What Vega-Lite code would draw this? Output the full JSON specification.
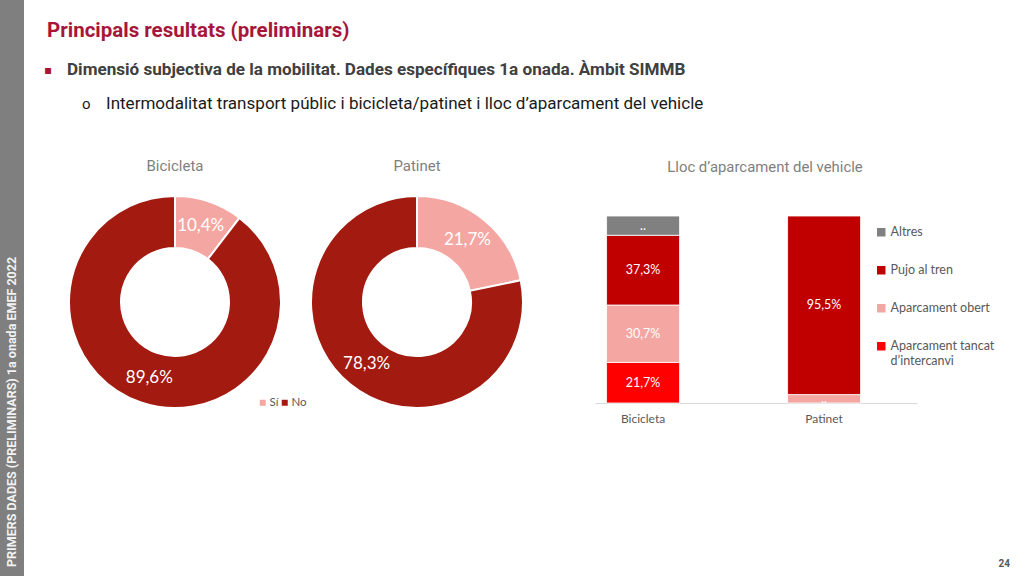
{
  "$schema": "https://vega.github.io/schema/vega-lite/v6.json",
  "padding": 0,
  "background": "white",
  "config": {
    "view": {"stroke": null},
    "font": "Roboto",
    "title": {"font": "Roboto"}
  },
  "spacing": 20,
  "hconcat": [
    {
      "width": 24,
      "height": 576,
      "view": {"fill": "#7f7f7f", "stroke": null},
      "data": {"values": [{"t": "PRIMERS DADES (PRELIMINARS) 1a onada EMEF 2022"}]},
      "mark": {"type": "text", "angle": 270, "align": "left", "baseline": "middle", "color": "#f2f2f2", "fontSize": 12.5, "fontWeight": "bold", "font": "Roboto", "dx": 9},
      "encoding": {
        "text": {"field": "t"},
        "y": {"datum": 0, "type": "quantitative", "scale": {"domain": [0, 1]}, "axis": null}
      }
    },
    {
      "spacing": 24,
      "vconcat": [
        {
          "width": 900,
          "height": 135,
          "encoding": {
            "x": {"datum": 0, "type": "quantitative", "scale": {"domain": [0, 1]}, "axis": null},
            "y": {"field": "line", "type": "nominal", "scale": {"type": "point", "domain": ["t", "b1", "b2"], "range": [31, 104], "padding": 0}, "axis": null},
            "text": {"field": "txt"}
          },
          "layer": [
            {
              "data": {"values": [{"line": "t", "txt": "Principals resultats (preliminars)"}]},
              "mark": {"type": "text", "align": "left", "dx": 3, "font": "Roboto", "fontSize": 20.5, "fontWeight": "bold", "color": "#A6163A"}
            },
            {
              "data": {"values": [{"line": "b1", "txt": "▪"}]},
              "mark": {"type": "text", "align": "left", "dx": 0, "dy": 2, "font": "DejaVu Sans", "fontSize": 12, "color": "#A6163A"}
            },
            {
              "data": {"values": [{"line": "b1", "txt": "Dimensió subjectiva de la mobilitat. Dades específiques 1a onada. Àmbit SIMMB"}]},
              "mark": {"type": "text", "align": "left", "dx": 23, "dy": 2.5, "font": "Roboto", "fontSize": 17.1, "fontWeight": "bold", "color": "#404040"}
            },
            {
              "data": {"values": [{"line": "b2", "txt": "o"}]},
              "mark": {"type": "text", "align": "left", "dx": 38, "font": "Roboto", "fontSize": 15, "color": "#1a1a1a"}
            },
            {
              "data": {"values": [{"line": "b2", "txt": "Intermodalitat transport públic i bicicleta/patinet i lloc d’aparcament del vehicle"}]},
              "mark": {"type": "text", "align": "left", "dx": 62, "font": "Roboto", "fontSize": 17.05, "color": "#1a1a1a"}
            }
          ]
        },
        {
          "spacing": 0,
          "resolve": {"scale": {"color": "independent", "theta": "independent"}, "legend": {"color": "independent"}},
          "hconcat": [
            {
              "width": 262,
              "height": 212,
              "title": {"text": "Bicicleta", "fontSize": 15, "fontWeight": "normal", "color": "#7f7f7f", "offset": 18},
              "data": {"values": [
                {"r": "Sí", "v": 10.4, "lab": "10,4%"},
                {"r": "No", "v": 89.6, "lab": "89,6%"}
              ]},
              "encoding": {
                "theta": {"field": "v", "type": "quantitative", "stack": true},
                "order": {"field": "r", "type": "nominal", "sort": "descending"}
              },
              "layer": [
                {
                  "mark": {"type": "arc", "radius": 106, "radius2": 54, "stroke": "white", "strokeWidth": 2},
                  "encoding": {
                    "color": {
                      "field": "r", "type": "nominal",
                      "scale": {"domain": ["Sí", "No"], "range": ["#F4A7A2", "#A31A10"]},
                      "legend": {"orient": "bottom-right", "direction": "horizontal", "title": null, "offset": -1, "symbolType": "square", "symbolSize": 36, "symbolStrokeWidth": 0, "labelFontSize": 11.5, "labelFont": "Lato", "labelColor": "#595959", "columnPadding": 0, "gridAlign": "none", "labelOffset": 1, "padding": 0}
                    }
                  }
                },
                {
                  "mark": {"type": "text", "radius": 80, "fontSize": 17, "font": "Lato"},
                  "encoding": {"text": {"field": "lab"}, "detail": {"field": "r"}, "color": {"value": "white"}}
                }
              ]
            },
            {
              "width": 212,
              "height": 212,
              "title": {"text": "Patinet", "fontSize": 15, "fontWeight": "normal", "color": "#7f7f7f", "offset": 18},
              "data": {"values": [
                {"r": "Sí", "v": 21.7, "lab": "21,7%"},
                {"r": "No", "v": 78.3, "lab": "78,3%"}
              ]},
              "encoding": {
                "theta": {"field": "v", "type": "quantitative", "stack": true},
                "order": {"field": "r", "type": "nominal", "sort": "descending"}
              },
              "layer": [
                {
                  "mark": {"type": "arc", "radius": 106, "radius2": 54, "stroke": "white", "strokeWidth": 2},
                  "encoding": {
                    "color": {
                      "field": "r", "type": "nominal",
                      "scale": {"domain": ["Sí", "No"], "range": ["#F4A7A2", "#A31A10"]},
                      "legend": null
                    }
                  }
                },
                {
                  "mark": {"type": "text", "radius": 80, "fontSize": 17, "font": "Lato"},
                  "encoding": {"text": {"field": "lab"}, "detail": {"field": "r"}, "color": {"value": "white"}}
                }
              ]
            },
            {
              "width": 322,
              "height": 207,
              "title": {"text": "Lloc d’aparcament del vehicle", "fontSize": 14.9, "fontWeight": "normal", "color": "#7f7f7f", "offset": 21, "dx": 9},
              "data": {"values": [
                {"m": "Bicicleta", "c": "Aparcament tancat d’intercanvi", "v": 21.7, "lab": "21,7%", "k": 1},
                {"m": "Bicicleta", "c": "Aparcament obert", "v": 30.7, "lab": "30,7%", "k": 2},
                {"m": "Bicicleta", "c": "Pujo al tren", "v": 37.3, "lab": "37,3%", "k": 3},
                {"m": "Bicicleta", "c": "Altres", "v": 10.3, "lab": "..", "k": 4},
                {"m": "Patinet", "c": "Aparcament obert", "v": 4.5, "lab": "..", "k": 2},
                {"m": "Patinet", "c": "Pujo al tren", "v": 95.5, "lab": "95,5%", "k": 3}
              ]},
              "encoding": {
                "x": {
                  "field": "m", "type": "nominal",
                  "scale": {"paddingInner": 0.5967, "paddingOuter": 0.1878, "align": 0.17},
                  "axis": {"title": null, "labelAngle": 0, "domainColor": "#d9d9d9", "ticks": false, "labelColor": "#595959", "labelFontSize": 12, "labelFont": "Lato", "labelPadding": 10}
                },
                "order": {"field": "k", "type": "quantitative"}
              },
              "layer": [
                {
                  "mark": {"type": "bar", "stroke": "white", "strokeWidth": 0.8},
                  "encoding": {
                    "y": {"field": "v", "type": "quantitative", "stack": "zero", "scale": {"domain": [0, 110.7], "nice": false},
                      "axis": {"title": null, "labels": false, "ticks": false, "domain": false, "grid": false, "minExtent": 68, "maxExtent": 68}},
                    "color": {
                      "field": "c", "type": "nominal",
                      "scale": {"domain": ["Altres", "Pujo al tren", "Aparcament obert", "Aparcament tancat d’intercanvi"], "range": ["#808080", "#C00000", "#F4A7A2", "#FF0000"]},
                      "legend": {
                        "orient": "none", "legendX": 280, "legendY": 30, "title": null,
                        "symbolType": "square", "symbolSize": 72, "symbolStrokeWidth": 0,
                        "labelFontSize": 12.5, "labelFont": "Lato", "labelColor": "#595959", "rowPadding": 25, "labelOffset": 3, "padding": 0,
                        "labelExpr": "datum.label == 'Aparcament tancat d’intercanvi' ? ['Aparcament tancat', 'd’intercanvi'] : datum.label"
                      }
                    }
                  }
                },
                {
                  "mark": {"type": "text", "fontSize": 12.5, "font": "Lato"},
                  "encoding": {
                    "y": {"field": "v", "type": "quantitative", "stack": "zero", "bandPosition": 0.5},
                    "detail": {"field": "c"},
                    "color": {"value": "white"},
                    "text": {"field": "lab"}
                  }
                }
              ]
            }
          ]
        },
        {
          "width": 966,
          "height": 116,
          "data": {"values": [{"p": "24"}]},
          "mark": {"type": "text", "align": "right", "baseline": "middle", "font": "Roboto", "fontSize": 10, "fontWeight": "bold", "color": "#595959"},
          "encoding": {
            "text": {"field": "p"},
            "x": {"datum": 1, "type": "quantitative", "scale": {"domain": [0, 1]}, "axis": null},
            "y": {"datum": 0, "type": "quantitative", "scale": {"domain": [0, 1]}, "axis": null}
          }
        }
      ]
    }
  ]
}
